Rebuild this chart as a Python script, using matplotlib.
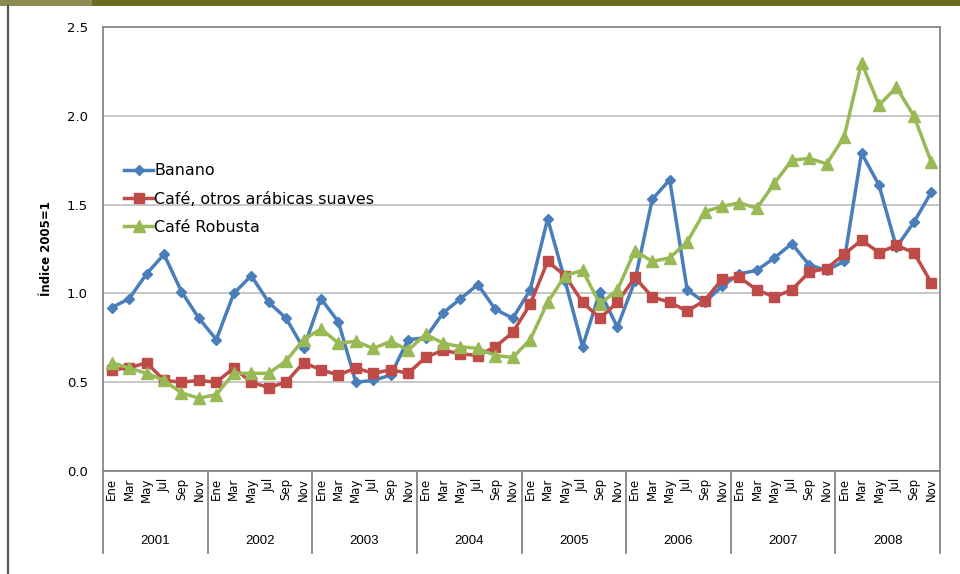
import matplotlib
matplotlib.use('Agg')
import matplotlib.pyplot as plt
from matplotlib.patches import Rectangle
from matplotlib.lines import Line2D
import matplotlib.transforms as mtransforms

# datos
anios = ['2001', '2002', '2003', '2004', '2005', '2006', '2007', '2008']
meses = ['Ene', 'Mar', 'May', 'Jul', 'Sep', 'Nov']

banano = [0.92, 0.97, 1.11, 1.22, 1.01, 0.86,
          0.74, 1.00, 1.10, 0.95, 0.86, 0.69,
          0.97, 0.84, 0.50, 0.51, 0.54, 0.74,
          0.75, 0.89, 0.97, 1.05, 0.91, 0.86,
          1.02, 1.42, 1.07, 0.70, 1.01, 0.81,
          1.07, 1.53, 1.64, 1.02, 0.95, 1.04,
          1.11, 1.13, 1.20, 1.28, 1.16, 1.13,
          1.18, 1.79, 1.61, 1.26, 1.40, 1.57]
cafe_arabica = [0.57, 0.58, 0.61, 0.51, 0.50, 0.51,
                0.50, 0.58, 0.50, 0.47, 0.50, 0.61,
                0.57, 0.54, 0.58, 0.55, 0.57, 0.55,
                0.64, 0.68, 0.66, 0.65, 0.70, 0.78,
                0.94, 1.18, 1.10, 0.95, 0.86, 0.95,
                1.09, 0.98, 0.95, 0.90, 0.96, 1.08,
                1.09, 1.02, 0.98, 1.02, 1.12, 1.14,
                1.22, 1.30, 1.23, 1.27, 1.23, 1.06]
cafe_robusta = [0.61, 0.58, 0.55, 0.51, 0.44, 0.41,
                0.43, 0.55, 0.55, 0.55, 0.62, 0.74,
                0.80, 0.72, 0.73, 0.69, 0.73, 0.68,
                0.77, 0.72, 0.70, 0.69, 0.65, 0.64,
                0.74, 0.95, 1.10, 1.13, 0.94, 1.02,
                1.24, 1.18, 1.20, 1.29, 1.46, 1.49,
                1.51, 1.48, 1.62, 1.75, 1.76, 1.73,
                1.88, 2.30, 2.06, 2.16, 2.00, 1.74]

azul = '#4A7EBB'
rojo = '#BE4B48'
verde = '#98B954'

fig = plt.figure(figsize=(9.6, 5.74), dpi=100)

# banda superior y linea izquierda
fig.patches.append(Rectangle((0, 1 - 6 / 574), 92 / 960, 6 / 574, transform=fig.transFigure,
                             facecolor='#8C8C52', edgecolor='none'))
fig.patches.append(Rectangle((92 / 960, 1 - 6 / 574), 1, 6 / 574, transform=fig.transFigure,
                             facecolor='#6B6B22', edgecolor='none'))
fig.lines.append(Line2D([8 / 960, 8 / 960], [0, 1 - 6 / 574], transform=fig.transFigure,
                        color='#555555', lw=1.6))

ax = fig.add_axes([103 / 960, 1 - 471 / 574, 837 / 960, 444 / 574])

x = list(range(len(banano)))
ax.plot(x, banano, color=azul, lw=2.5, marker='D', ms=5.5, label='Banano')
ax.plot(x, cafe_arabica, color=rojo, lw=2.5, marker='s', ms=7, label='Café, otros arábicas suaves')
ax.plot(x, cafe_robusta, color=verde, lw=2.5, marker='^', ms=8, label='Café Robusta')

ax.set_xlim(-0.5, len(banano) - 0.5)
ax.set_ylim(0, 2.5)
ax.set_yticks([0, 0.5, 1.0, 1.5, 2.0, 2.5])
ax.set_yticklabels(['%.1f' % v for v in [0, 0.5, 1.0, 1.5, 2.0, 2.5]], fontsize=9.5)
ax.yaxis.grid(True, color='#BDBDBD', lw=1.2)
ax.set_axisbelow(True)
ax.tick_params(axis='y', length=0, pad=11)

etiquetas = [m for a in anios for m in meses]
ax.set_xticks(x)
ax.set_xticklabels(etiquetas, rotation=90, fontsize=8.5,
                   family=['Liberation Sans Narrow', 'DejaVu Sans'])
ax.tick_params(axis='x', length=0, pad=5)

for s in ax.spines.values():
    s.set_color('#868686')
    s.set_linewidth(1.3)

ax.set_ylabel('Índice 2005=1', fontsize=8.5, fontweight='bold',
              family=['Liberation Sans Narrow', 'DejaVu Sans'], labelpad=10)

# separadores de años y etiquetas
trans = mtransforms.blended_transform_factory(ax.transData, ax.transAxes)
for k in range(len(anios) + 1):
    xs = k * len(meses) - 0.5
    ax.add_line(Line2D([xs, xs], [0, -0.185], transform=trans, color='#868686',
                       lw=1.3, clip_on=False))
for k, a in enumerate(anios):
    ax.text(k * len(meses) + 2.5, -0.157, a, transform=trans, ha='center', va='center',
            fontsize=9.5, family=['Liberation Sans', 'DejaVu Sans'])

ax.legend(loc='upper left', bbox_to_anchor=(0.018, 0.707), frameon=False, fontsize=11.4,
          borderaxespad=0, borderpad=0.4, handlelength=1.8, labelspacing=0.83,
          handletextpad=0.1)

fig.savefig('out.png', dpi=100)
